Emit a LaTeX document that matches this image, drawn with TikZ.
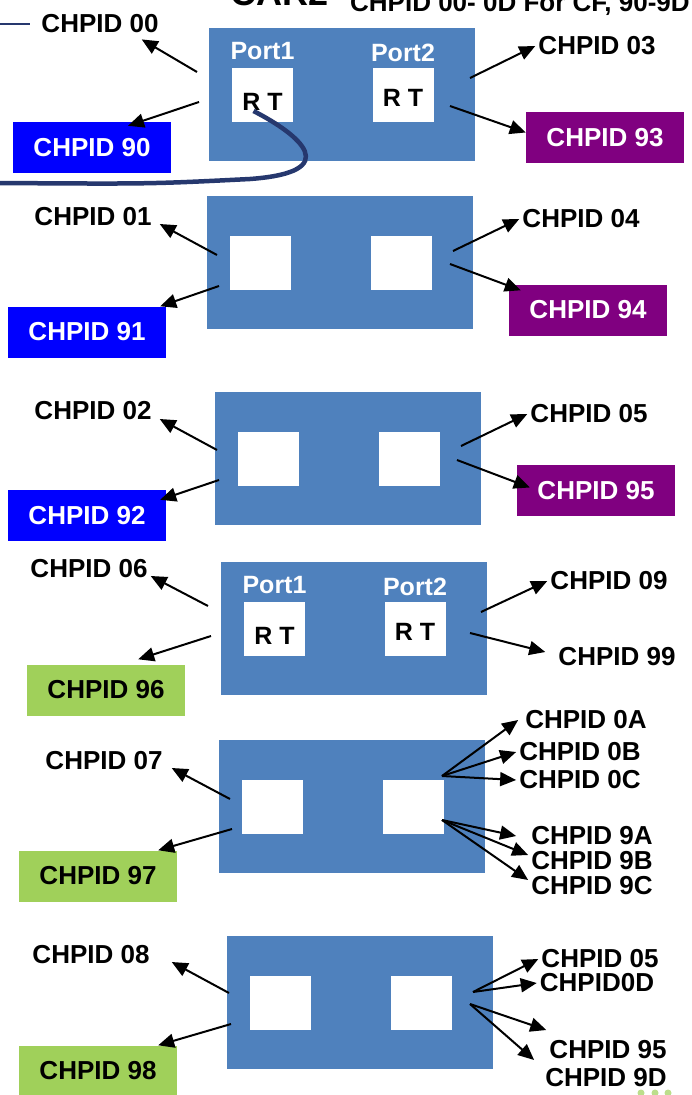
\documentclass[tikz,border=0pt]{standalone}
\usepackage{fontspec}
\setmainfont{Liberation Sans}
\usepackage{tikz}
\usetikzlibrary{positioning,arrows.meta}
\usepackage{xcolor}
\definecolor{cardblue}{RGB}{79,129,189}
\definecolor{chblue}{RGB}{0,0,255}
\definecolor{chpurple}{RGB}{128,0,128}
\definecolor{chgreen}{RGB}{160,208,90}
\definecolor{cable}{RGB}{38,56,110}

\begin{document}
\begin{tikzpicture}[x=1pt,y=-1pt,
    card/.style={fill=cardblue,minimum width=266pt,minimum height=133pt,inner sep=0pt},
    port/.style={fill=white,minimum width=61pt,minimum height=54pt,inner sep=0pt},
    lbl/.style={font=\bfseries\fontsize{26}{28}\selectfont,inner sep=3pt},
    tag/.style={lbl,minimum width=158pt,minimum height=51pt,text=white},
    plbl/.style={font=\bfseries\fontsize{25}{27}\selectfont,text=white,inner sep=1pt},
    rt/.style={font=\bfseries\fontsize{25}{27}\selectfont,inner sep=1pt},
    arr/.style={-{Triangle[length=16pt,width=14pt]},line width=2pt}]
    \useasboundingbox (0,0) rectangle (691,1095);
    \clip (0,0) rectangle (691,1095);

    % heading, cut off at the top edge
    \node[anchor=base west,inner sep=0pt,font=\bfseries\fontsize{36}{38}\selectfont] (title) at (230,5) {CAR2};
    \node[anchor=base west,lbl,inner sep=0pt] (subtitle) at (350,11) {CHPID 00- 0D For CF, 90-9D};

    % the six cards with two ports each
    \foreach \n/\x/\y in {1/342/94.5, 2/340/262.5, 3/348/458.5,
                          4/354/628.5, 5/352/806.5, 6/360/1002.5} {
      \node[card] (k\n) at (\x,\y) {};
      \node[port] (k\n-1) at ([xshift=-79.5pt,yshift=-0.5pt]k\n.center) {};
      \node[port] (k\n-2) at ([xshift=61pt,yshift=-0.5pt]k\n.center) {};
    }
    \foreach \n in {1,4} {
      \node[plbl,above=7pt of k\n-1] (k\n-1p) {Port1};
      \node[plbl,above=5pt of k\n-2] (k\n-2p) {Port2};
      \node[rt] (k\n-1t) at ([yshift=-7pt]k\n-1.center) {R T};
      \node[rt] (k\n-2t) at ([yshift=-3pt]k\n-2.center) {R T};
    }

    % plain CHPID labels
    \foreach \id/\x/\y in {00/100/24, 01/93/217, 02/93/411, 06/89/569, 07/104/761, 08/91/955,
                           03/597/46, 04/581/219, 05/589/414, 09/609/581, 99/617/657,
                           0A/586/720, 0B/580/752, 0C/580/780, 9A/592/836, 9B/592/861,
                           9C/592/886, 95/608/1050, 9D/606/1078}
      \node[lbl] (l\id) at (\x,\y) {CHPID \id};
    \node[lbl] (l05b) at (600,959) {CHPID 05};
    \node[lbl] (l0D) at (597,983) {CHPID0D};

    % coloured CHPID boxes
    \foreach \id/\x/\y/\c in {90/92/147.5/chblue, 91/87/332/chblue, 92/87/515.5/chblue,
                              93/605/137.5/chpurple, 94/588/310/chpurple, 95/596/490.5/chpurple}
      \node[tag,fill=\c] (b\id) at (\x,\y) {CHPID \id};
    \foreach \id/\x/\y in {96/106/690, 97/98/876, 98/98/1071}
      \node[tag,fill=chgreen,text=black] (b\id) at (\x,\y) {CHPID \id};

    % cable leaving port 1 of the first card
    \coordinate (cable0) at ([xshift=-9pt,yshift=-16pt]k1-1.center);
    \coordinate (cable1) at (0,183);
    \draw[cable,line width=4.5pt] (cable0) .. controls (300,135) and (345,172) .. (250,179)
      .. controls (150,184) .. (cable1);
    \coordinate (edge) at (0,24);
    \draw[cable,line width=1.3pt] (edge) -- ([xshift=-8pt]l00.west);

    % arrow start points
    \foreach \c/\x/\y in {s1a/197/72, s1b/199/102, s1c/470/78, s1d/450/106,
                          s2a/217/255, s2b/219/286, s2c/453/251, s2d/450/264,
                          s3a/217/450, s3b/219/480, s3c/461/446, s3d/457/460,
                          s4a/208/606, s4b/211/636, s4c/481/612, s4d/470/633,
                          s5a/230/799, s5b/232/829, s5c/442/776, s5d/442/820,
                          s6a/229/993, s6b/231/1024, s6c/473/992, s6d/470/1004}
      \coordinate (\c) at (\x,\y);

    \draw[arr] (s1a) -- ([xshift=-20pt,yshift=-3pt]l00.south east);
    \draw[arr] (s1b) -- ([xshift=36pt,yshift=-4pt]b90.north);
    \draw[arr] (s1c) -- (l03.west);
    \draw[arr] (s1d) -- ([yshift=5pt]b93.west);

    \draw[arr] (s2a) -- ([xshift=5pt,yshift=-7pt]l01.east);
    \draw[arr] (s2b) -- ([xshift=-6pt]b91.north east);
    \draw[arr] (s2c) -- (l04.west);
    \draw[arr] (s2d) -- ([xshift=12pt,yshift=-6pt]b94.north west);

    \draw[arr] (s3a) -- ([xshift=5pt,yshift=-8pt]l02.east);
    \draw[arr] (s3b) -- ([xshift=-6pt,yshift=-10pt]b92.north east);
    \draw[arr] (s3c) -- (l05.west);
    \draw[arr] (s3d) -- ([xshift=13pt,yshift=3pt]b95.west);

    \draw[arr] (s4a) -- ([yshift=-7pt]l06.east);
    \draw[arr] (s4b) -- ([xshift=-47pt,yshift=5pt]b96.north east);
    \draw[arr] (s4c) -- (l09.west);
    \draw[arr] (s4d) -- ([xshift=-10pt,yshift=5pt]l99.west);

    \draw[arr] (s5a) -- ([xshift=6pt,yshift=-7pt]l07.east);
    \draw[arr] (s5b) -- ([xshift=-19pt]b97.north east);
    \draw[arr] (s5c) -- ([xshift=-4pt]l0A.west);
    \draw[arr] (s5c) -- (l0B.west);
    \draw[arr] (s5c) -- (l0C.west);
    \draw[arr] (s5d) -- ([xshift=-12pt]l9A.west);
    \draw[arr] (s5d) -- ([yshift=6pt]l9B.west);
    \draw[arr] (s5d) -- ([yshift=6pt]l9C.west);

    \draw[arr] (s6a) -- ([xshift=19pt,yshift=-7pt]l08.east);
    \draw[arr] (s6b) -- ([xshift=-19pt]b98.north east);
    \draw[arr] (s6c) -- (l05b.west);
    \draw[arr] (s6c) -- (l0D.west);
    \draw[arr] (s6d) -- ([yshift=20pt]l95.west);
    \draw[arr] (s6d) -- ([xshift=-8pt,yshift=18pt]l9D.west);

    % bit of a logo in the corner
    \foreach \x in {641,655,668}
      \fill[chgreen!70] (\x,1093) circle (3.5);
  \end{tikzpicture}
\end{document}
